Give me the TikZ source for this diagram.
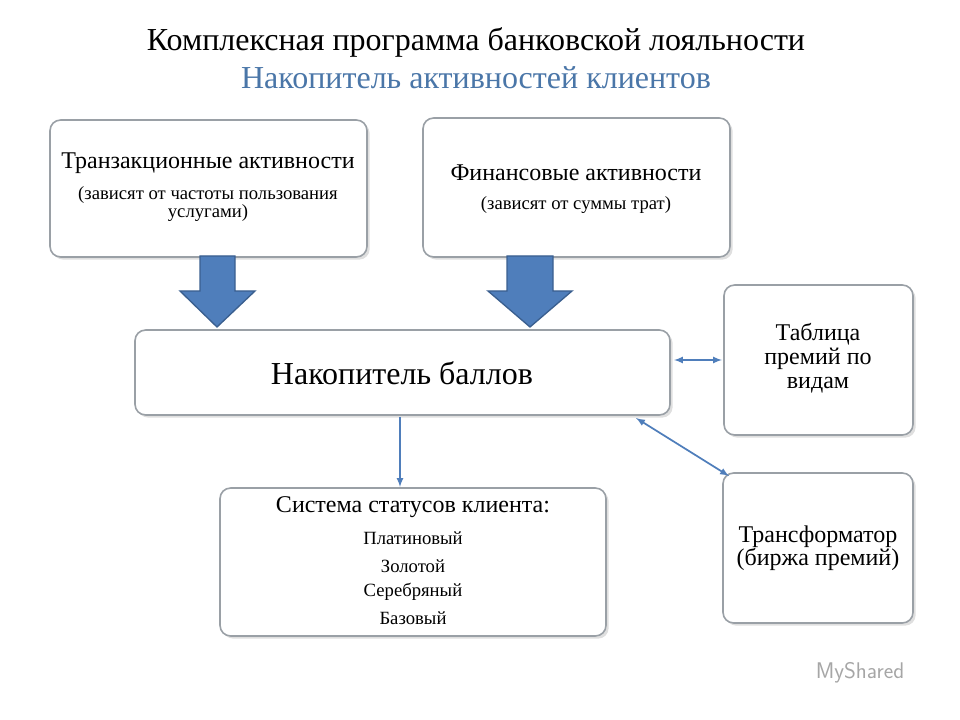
\documentclass[tikz,border=0pt]{standalone}
\usepackage{fontspec}
\setmainfont{Liberation Serif}
\usetikzlibrary{shadows}
\definecolor{bord}{HTML}{9AA0A6}
\definecolor{barrow}{HTML}{4F7EBB}
\definecolor{barrowd}{HTML}{3A5F8F}
\definecolor{tblue}{HTML}{4A76A8}
\begin{document}
\begin{tikzpicture}[x=0.75pt,y=-0.75pt,
  box/.style={draw=bord,line width=1.2pt,rounded corners=8pt,fill=white,drop shadow={opacity=0.25,shadow xshift=2pt,shadow yshift=-2pt}},
  conn/.style={draw=barrow,line width=1.3pt,-latex},
  dconn/.style={draw=barrow,line width=1.3pt,latex-latex},
  blk/.style={fill=barrow,draw=barrowd,line width=1pt},
  big/.style={font=\fontsize{18}{20}\selectfont},
  sml/.style={font=\fontsize{14}{14}\selectfont},
  ttl/.style={font=\fontsize{24}{28}\selectfont}]
\useasboundingbox (0,0) rectangle (960,720);
\node[ttl] (t1) at (476,42) {Комплексная программа банковской лояльности};
\node[ttl,text=tblue] (t2) at (476,78) {Накопитель активностей клиентов};
\path[box] (50,120) rectangle (367,257);
\node[big] (b1) at (208,163) {Транзакционные активности};
\node[sml,align=center] (b1s) at (208,204) {(зависят от частоты пользования\\ услугами)};
\path[box] (423,118) rectangle (730,257);
\node[big] (b2) at (576,173) {Финансовые активности};
\node[sml] (b2s) at (576,205) {(зависят от суммы трат)};
\path[box] (135,330) rectangle (670,415);
\node[font=\fontsize{24}{28}\selectfont] (c) at (402,373) {Накопитель баллов};
\coordinate (cr) at (674,360); \coordinate (cb) at (400,417); \coordinate (cbr) at (636,418);
\path[box] (724,285) rectangle (913,435);
\node[align=center,font=\fontsize{18}{18}\selectfont] (r1) at (818,358) {Таблица\\ премий по\\ видам};
\coordinate (r1l) at (722,360);
\path[box] (723,473) rectangle (913,623);
\node[align=center,font=\fontsize{18}{17.5}\selectfont] (r2) at (818,548) {Трансформатор\\ (биржа премий)};
\coordinate (r2l) at (729,476);
\path[box] (220,488) rectangle (606,636);
\node[big] (s) at (413,507) {Система статусов клиента:};
\node[sml] (s1) at (413,538) {Платиновый};
\node[sml] (s2) at (413,566) {Золотой};
\node[sml] (s3) at (413,592) {Серебряный};
\node[sml] (s4) at (413,618) {Базовый};
\coordinate (st) at (400,487);
\path[blk] (200,256)--(235,256)--(235,291)--(255,291)--(217,327)--(180,291)--(200,291)--cycle;
\path[blk] (507,256)--(553,256)--(553,291)--(572,291)--(530,327)--(488,291)--(507,291)--cycle;
\draw[dconn] (cr) -- (r1l);
\draw[dconn] (cbr) -- (r2l);
\draw[conn] (cb) -- (st);
\node[text=gray!70,font=\sffamily\fontsize{17}{20}\selectfont] (logo) at (860,673) {MyShared};
\end{tikzpicture}
\end{document}
